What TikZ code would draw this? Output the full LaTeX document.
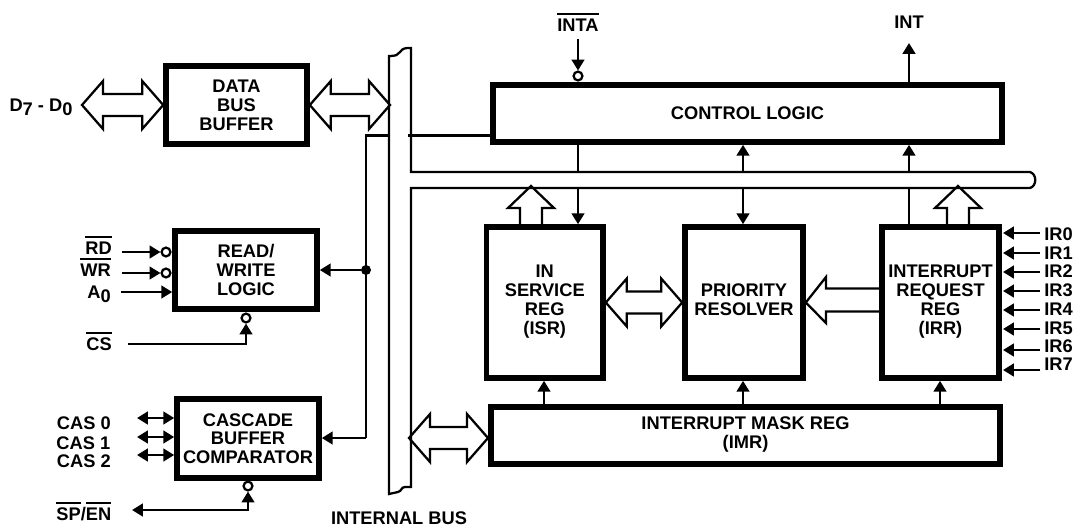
\documentclass[tikz,border=0pt]{standalone}
\usepackage{fontspec}
\setmainfont{Liberation Sans}
\usetikzlibrary{arrows.meta,calc}
\newcommand\ovl[1]{\leavevmode\vbox{\hrule height 1.35pt \kern 3pt \hbox{#1}}}
\newcommand\sbs[1]{\raisebox{-3pt}{#1}}
\newcommand\upshift{\rule[-4pt]{0pt}{0pt}}
\tikzset{
  txt/.style={font=\bfseries\fontsize{13.7}{14.1}\selectfont,align=center,inner sep=0pt},
  blk/.style={txt,draw=black,rectangle,line width=4.2pt,minimum width=#1*0.75pt},
  tall/.style={minimum height=151*0.75pt},
  lbl/.style={txt,anchor=base east},
  sig/.style={line width=1.9pt,draw=black},
  arr/.style={sig,-{Triangle[length=8.2pt,width=9.5pt]}},
  darr/.style={sig,{Triangle[length=8.2pt,width=9.5pt]}-{Triangle[length=8.2pt,width=9.5pt]}},
  hollow/.style={line width=1.7pt,draw=black,miter limit=4},
  busline/.style={line width=1.7pt,draw=black},
  bub/.style={circle,draw=black,line width=1.7pt,minimum size=6.6pt,inner sep=0pt,fill=white},
  dotn/.style={circle,fill=black,minimum size=7.5pt,inner sep=0pt},
}
% horizontal double-headed hollow arrow between two named points
\newcommand\hollowdouble[2]{\draw[hollow]
  (#1) -- ($(#1)+(21,-24)$) -- ($(#1)+(21,-11)$) -- ($(#2)+(-21,-11)$) -- ($(#2)+(-21,-24)$) -- (#2)
  -- ($(#2)+(-21,24)$) -- ($(#2)+(-21,11)$) -- ($(#1)+(21,11)$) -- ($(#1)+(21,24)$) -- cycle;}
% upward hollow arrow, from a point on a box top to the tip above
\newcommand\hollowup[1]{\draw[hollow]
  ($(#1)+(-11,38)$) -- ($(#1)+(-11,22)$) -- ($(#1)+(-23,22)$) -- (#1) -- ($(#1)+(23,22)$) -- ($(#1)+(11,22)$) -- ($(#1)+(11,38)$);}
\begin{document}
\begin{tikzpicture}[x=0.75pt,y=-0.75pt]
\useasboundingbox (0,0) rectangle (1073,526);

% internal bus outline
\draw[busline] (389,494) -- (389,56) .. controls (396,56) and (398,55) .. (400,52)
  .. controls (403,48) and (405,48) .. (411,48) -- (411,172) -- (1030,172)
  .. controls (1037,174) and (1037,186) .. (1030,188) -- (411,188) -- (411,487) -- (405,487)
  .. controls (401,487) and (402,491) .. (398,492) -- cycle;

% blocks
\node[blk=141,minimum height=78*0.75pt] (dbb) at (236.5,105) {DATA\\BUS\\BUFFER};
\node[blk=142,minimum height=78*0.75pt] (rw) at (246,270) {READ/\\WRITE\\LOGIC};
\node[blk=142,minimum height=79*0.75pt] (cas) at (248,438.5) {CASCADE\\BUFFER\\COMPARATOR};
\node[blk=509,minimum height=57*0.75pt] (ctl) at (747.5,113.5) {CONTROL LOGIC};
\node[blk=116.5,tall] (isr) at (544.75,302.5) {IN\\SERVICE\\REG\\(ISR)\upshift};
\node[blk=118,tall] (pr) at (744,302.5) {PRIORITY\\RESOLVER\upshift};
\node[blk=117,tall] (irr) at (940.5,302.5) {INTERRUPT\\REQUEST\\REG\\(IRR)\upshift};
\node[blk=509,minimum height=57*0.75pt] (imr) at (745.5,435.5) {INTERRUPT MASK REG\\(IMR)\upshift};

% labels
\node[txt] (dlab) at (41,107) {D\sbs{7} - D\sbs{0}};
\node[lbl] (rd) at (112,254.5) {\ovl{RD}};
\node[lbl] (wr) at (111,276.5) {\ovl{WR}};
\node[lbl] (a0) at (111,298) {A\sbs{0}};
\node[lbl] (cs) at (112,350.5) {\ovl{CS}};
\node[lbl] (cas0) at (111,429.5) {CAS 0};
\node[lbl] (cas1) at (110.5,449) {CAS 1};
\node[lbl] (cas2) at (111,467.5) {CAS 2};
\node[lbl] (spen) at (111.5,520.5) {\ovl{SP}/\ovl{EN}};
\node[txt] (ibus) at (399,518) {INTERNAL BUS};
\node[txt] (inta) at (578,22) {\ovl{INTA}};
\node[txt] (int) at (909,22) {INT};
\foreach \n/\y in {0/240.5,1/259,2/277.5,3/296.5,4/315.5,5/334.5,6/352.5,7/370.5}
  \node[txt,anchor=base west] (ir\n) at (1044,\y) {IR\n};

% free ends and junctions
\coordinate (dtip) at (82,105);
\coordinate (bustipA) at (390,105);
\coordinate (bustipB) at (409,438);
\coordinate (imrtip) at (488,438);
\coordinate (busL) at (389,135.5);
\coordinate (busR) at (408,135.5);
\coordinate (trunkTop) at (366,135.5);
\coordinate (trunkBot) at (366,438);
\node[dotn] (dot) at (366,270) {};
\coordinate (busTopA) at (578,172);
\coordinate (busTopB) at (743,172);
\coordinate (busTopC) at (909,172);
\coordinate (busBotA) at (578,188);
\coordinate (busBotB) at (743,188);
\coordinate (busBotC) at (909,188);
\coordinate (ctlMidB) at (743,142);
\coordinate (intTop) at (909,43);
\coordinate (intaTop) at (578,39);

% hollow buses
\hollowdouble{dtip}{dbb.west}
\hollowdouble{dbb.east}{bustipA}
\hollowdouble{bustipB}{imrtip}
\hollowdouble{isr.east}{pr.west}
\coordinate (upA) at (531,186);
\coordinate (upB) at (958,186);
\hollowup{upA}
\hollowup{upB}
\draw[hollow] (irr.west |- 0,288.5) -- (826,288.5) -- (826,277) -- (pr.east) -- (826,323) -- (826,311.5) -- (irr.west |- 0,311.5);

% control logic links
\draw[sig] (busL) -- (trunkTop) -- (trunkBot);
\draw[sig] (busR) -- (ctl.west |- busR);
\draw[arr] (dot) -- (rw.east |- dot);
\draw[arr] (trunkBot) -- (cas.east |- trunkBot);
\node[bub] (binta) at (578,76) {};
\draw[arr] (intaTop) -- (binta.north);
\draw[arr] (ctl.north -| intTop) -- (intTop);
\draw[sig] (ctl.south -| busTopA) -- (busTopA);
\draw[arr] (busTopB) -- (ctl.south -| busTopB);
\draw[arr] (busTopC) -- (ctl.south -| busTopC);
\draw[arr] (busBotA) -- (isr.north -| busBotA);
\draw[arr] (busBotB) -- (pr.north -| busBotB);
\draw[sig] (busBotC) -- (irr.north -| busBotC);

% mask register up arrows
\draw[arr] (imr.north -| 544,0) -- (isr.south -| 544,0);
\draw[arr] (imr.north -| 743,0) -- (pr.south -| 743,0);
\draw[arr] (imr.north -| 940,0) -- (irr.south -| 940,0);

% IR inputs
\foreach \n/\y in {0/233,1/253,2/272,3/291,4/310,5/329,6/350,7/370}{
  \coordinate (irs\n) at (1040,\y);
  \draw[arr] (irs\n) -- (1003,\y);
}

% read/write inputs
\node[bub] (brd) at (166,252) {};
\node[bub] (bwr) at (166,273) {};
\coordinate (rdS) at (122,252);
\coordinate (wrS) at (122,273);
\coordinate (a0S) at (121,292);
\draw[arr] (rdS) -- (brd.west);
\draw[arr] (wrS) -- (bwr.west);
\draw[arr] (a0S) -- (rw.west |- a0S);
\node[bub] (bcs) at (246,318) {};
\coordinate (csS) at (128,344);
\draw[arr] (csS) -- (bcs.south |- csS) -- (bcs.south);

% cascade links
\foreach \n/\y in {0/418,1/437,2/455}{
  \coordinate (casS\n) at (137,\y);
  \draw[darr] (casS\n) -- (cas.west |- casS\n);
}
\node[bub] (bsp) at (248,486) {};
\coordinate (spS) at (132,510);
\draw[darr] (spS) -- (bsp.south |- spS) -- (bsp.south);
\end{tikzpicture}
\end{document}
